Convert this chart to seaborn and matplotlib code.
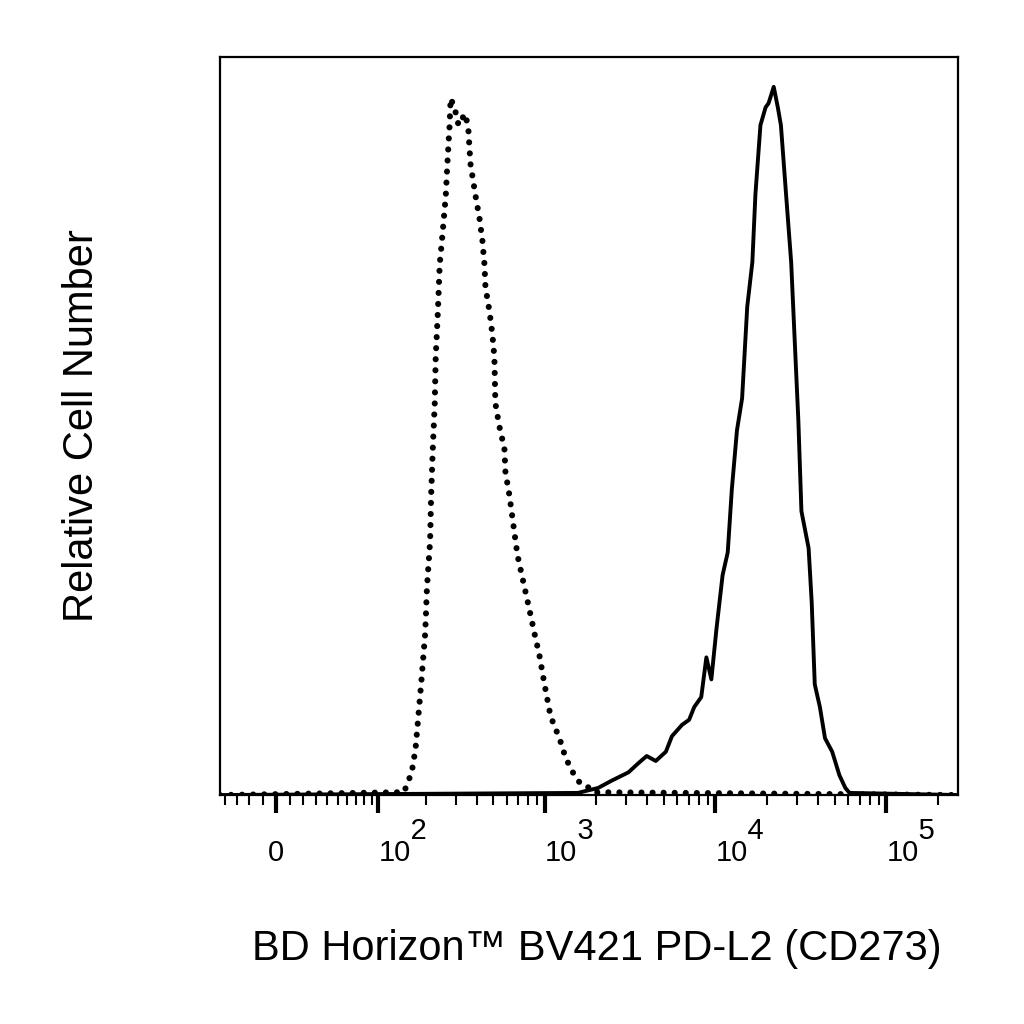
import numpy as np
import pandas as pd
import matplotlib
matplotlib.use("Agg")
import matplotlib.pyplot as plt
import seaborn as sns
from matplotlib.ticker import FixedLocator, FixedFormatter

# isotype control (dotted) - intensity vs relative count
iso_x = [-45, 146, 163, 172, 179, 187, 197, 202, 211, 214, 219, 225, 228, 235, 241,
         251, 262, 269, 276, 280, 296, 312, 329, 343, 357, 367, 393, 415, 432, 444,
         450, 475, 494, 508, 515, 543, 582, 590, 622, 649, 694, 763, 816, 873, 935,
         1000, 1085, 1227, 1331, 1465, 1611, 1750, 1923, 262144]
iso_y = [0, 0.4, 3.2, 6.5, 11.1, 16.2, 22.8, 29.3, 35.8, 42.3, 48.8, 55.2, 61.7, 68.2, 74.8,
         79.3, 84.5, 89.8, 94.3, 98.2, 96.8, 94.4, 95.4, 96.0, 93.7, 89.0, 84.5, 81.3, 78.1, 74.8,
         71.6, 68.2, 65.0, 61.7, 55.2, 52.0, 48.8, 45.5, 42.3, 39.0, 33.8, 29.3, 26.1, 22.8, 19.6,
         15.6, 11.1, 7.9, 5.2, 3.2, 1.7, 1.4, 0.4, 0]

# PD-L2 stained cells (solid)
stain_x = [-45, 1567, 2061, 2460, 3100, 3548, 3963, 4477, 5129, 5570, 6383, 7015, 7516,
           8260, 8852, 9466, 10139, 11015, 11803, 12474, 13366, 14322, 15346, 16444,
           17140, 18336, 19648, 20464, 21928, 23174, 24155, 25882, 27733, 28907, 30549,
           31843, 35075, 36561, 38109, 40832, 43752, 48195, 53088, 57544, 60814, 262144]
stain_y = [0, 0.3, 1.0, 2.0, 3.2, 4.5, 5.5, 4.8, 6.1, 8.3, 9.9, 10.6, 12.4,
           13.8, 19.4, 16.3, 23.4, 31.0, 34.2, 43.1, 51.4, 55.9, 68.8, 75.1,
           84.7, 94.4, 96.9, 97.5, 99.8, 96.9, 94.4, 84.7, 75.1, 65.5, 52.8,
           40.0, 34.8, 27.2, 15.6, 12.4, 8.0, 6.1, 2.8, 1.0, 0.3, 0]

major_ticks = [0, 1e2, 1e3, 1e4, 1e5]
# exponent on its own line, shifted right, to get the big superscript look
major_labels = ["\n0", "    2\n10", "    3\n10", "    4\n10", "    5\n10"]
minor_ticks = ([-40, -30, -20, -10] + list(range(10, 100, 10))
               + [m * 10 ** e for e in (2, 3, 4) for m in range(2, 10)] + [2e5])

sns.set_style("ticks")
plt.rcParams['font.family'] = ['Liberation Sans', 'DejaVu Sans']

iso = pd.DataFrame({'x': iso_x, 'y': iso_y})
stain = pd.DataFrame({'x': stain_x, 'y': stain_y})

fig = plt.figure(figsize=(10.24, 10.24), dpi=100)
ax = fig.add_axes([0.2148, 0.2236, 0.7207, 0.7207])

# biexponential-like display scale
def fwd(v):
    return np.arcsinh(np.asarray(v, dtype=float) / 54.0)

def inv(v):
    return 54.0 * np.sinh(np.asarray(v, dtype=float))

ax.set_xscale('function', functions=(fwd, inv))

sns.lineplot(data=iso, x='x', y='y', sort=False, estimator=None, ax=ax,
             color='black', linewidth=4.4, linestyle=(0, (0.01, 1.8)),
             dash_capstyle='round')
sns.lineplot(data=stain, x='x', y='y', sort=False, estimator=None, ax=ax,
             color='black', linewidth=2.8)

ax.set_xlim(-45, 262144)
ax.set_ylim(0, 104)

ax.xaxis.set_major_locator(FixedLocator(major_ticks))
ax.xaxis.set_major_formatter(FixedFormatter(major_labels))
ax.xaxis.set_minor_locator(FixedLocator(minor_ticks))
ax.tick_params(axis='x', which='major', length=13, width=3, labelsize=21, pad=3,
               colors='black')
ax.tick_params(axis='x', which='minor', length=7, width=1.5, colors='black')
ax.set_yticks([])
for i, lab in enumerate(ax.get_xticklabels()):
    lab.set_linespacing(0.72)
    if i > 0:
        lab.set_horizontalalignment('left')
        lab.set_multialignment('left')
    else:
        lab.set_multialignment('center')

for s in ax.spines.values():
    s.set_linewidth(1.6)
    s.set_color('black')

ax.set_xlabel("BD Horizon™ BV421 PD-L2 (CD273)", fontsize=30, color='black')
ax.set_ylabel("Relative Cell Number", fontsize=30, labelpad=85, color='black')
ax.xaxis.set_label_coords(0.51, -0.182)

fig.savefig("out.png", dpi=100)
